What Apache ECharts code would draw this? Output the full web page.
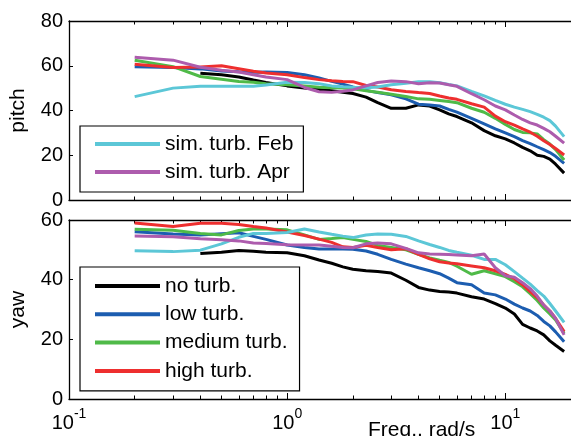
<!DOCTYPE html>
<html>
<head>
<meta charset="utf-8">
<script src="https://cdn.jsdelivr.net/npm/echarts@6/dist/echarts.min.js"></script>
<style>
html,body{margin:0;padding:0;background:#fff;}
#chart{width:571px;height:436px;}
</style>
</head>
<body>
<div id="chart"></div>
<script>
// ---------- data ----------
var freq = [0.2, 0.3, 0.4, 0.5, 0.6, 0.7, 0.8, 1.0, 1.2, 1.4, 1.6, 1.8, 2.0, 2.3, 2.6, 3.0, 3.5, 4, 4.5, 5, 5.5, 6, 7, 8, 9, 10, 11, 12, 13, 14, 15, 16, 17, 18.6];

var seriesNames = ['no turb.', 'low turb.', 'medium turb.', 'high turb.', 'sim. turb. Feb', 'sim. turb. Apr'];
var seriesColors = ['#000000', '#1c5db0', '#4fba48', '#ee2f2f', '#5cc7d7', '#ad5cad'];

// pitch (top panel)
var pitchNo   = [null, null, 56.6, 56.0, 55.0, 53.6, 52.5, 51.0, 50.0, 49.4, 48.8, 48.2, 47.6, 46.0, 43.5, 41.0, 41.0, 42.5, 42.0, 40.3, 38.5, 37.3, 34.5, 31.0, 28.7, 27.3, 25.5, 23.5, 22.0, 20.0, 19.5, 18.3, 16.0, 12.0];
var pitchLow  = [59.6, 59.2, 58.6, 57.6, 57.3, 57.1, 57.2, 57.0, 56.0, 54.5, 53.0, 51.8, 50.5, 49.0, 48.0, 47.0, 45.2, 42.8, 42.5, 42.0, 40.5, 39.3, 36.5, 34.0, 31.8, 30.0, 28.3, 26.5, 25.2, 23.8, 22.5, 21.2, 19.5, 16.4];
var pitchMed  = [62.5, 59.6, 55.2, 54.0, 53.0, 52.6, 52.0, 51.5, 51.0, 50.4, 50.2, 50.0, 49.7, 48.8, 48.2, 47.3, 46.3, 45.2, 45.0, 44.5, 44.0, 43.5, 41.0, 39.2, 36.5, 33.8, 31.5, 30.2, 30.0, 29.5, 27.0, 25.0, 22.5, 17.9];
var pitchHigh = [60.7, 59.2, 59.4, 60.0, 58.7, 57.5, 56.8, 56.0, 54.7, 53.8, 53.3, 53.0, 52.9, 51.2, 50.5, 49.3, 48.5, 48.0, 47.6, 46.5, 45.6, 45.0, 43.0, 41.5, 37.5, 35.0, 33.5, 31.8, 30.3, 28.5, 26.5, 24.8, 23.0, 20.1];
var pitchFeb  = [46.2, 50.0, 50.8, 50.8, 50.8, 50.8, 51.4, 52.6, 52.5, 52.0, 51.0, 50.6, 50.4, 50.2, 50.5, 51.5, 52.2, 52.8, 52.9, 52.4, 51.6, 51.0, 48.5, 46.5, 44.5, 42.8, 41.5, 40.5, 39.5, 38.3, 37.0, 35.5, 33.0, 28.3];
var pitchApr  = [63.8, 62.5, 59.3, 58.0, 57.2, 56.0, 55.0, 53.8, 50.3, 48.4, 48.1, 48.6, 49.2, 51.0, 52.5, 53.2, 52.9, 52.0, 52.4, 52.3, 51.5, 50.8, 47.5, 44.8, 42.0, 40.3, 38.0, 36.0, 34.5, 33.5, 32.0, 30.5, 28.5, 25.4];

// yaw (bottom panel)
var yawNo   = [null, null, 48.8, 49.2, 49.8, 49.5, 49.2, 49.0, 48.0, 46.6, 45.5, 44.3, 43.5, 43.0, 42.7, 42.2, 39.8, 37.4, 36.5, 36.0, 35.9, 35.5, 34.3, 33.5, 32.0, 30.5, 28.5, 25.0, 23.8, 22.8, 21.5, 19.5, 18.0, 15.9];
var yawLow  = [56.1, 55.3, 55.0, 55.4, 55.7, 54.5, 53.5, 51.6, 50.8, 50.3, 50.3, 50.3, 50.2, 49.6, 48.5, 46.8, 45.2, 44.0, 43.0, 42.0, 40.5, 39.0, 38.3, 35.5, 34.9, 33.5, 31.8, 30.5, 29.5, 28.0, 26.0, 24.5, 22.5, 19.2];
var yawMed  = [56.9, 56.6, 55.5, 55.0, 56.5, 57.0, 57.0, 56.7, 55.0, 53.5, 53.8, 54.1, 53.5, 52.8, 51.5, 50.8, 50.0, 48.5, 47.3, 46.5, 45.8, 44.5, 41.8, 43.0, 42.0, 41.0, 39.3, 37.6, 35.3, 33.0, 30.5, 28.5, 26.5, 22.0];
var yawHigh = [59.0, 57.8, 58.9, 58.9, 58.5, 57.8, 57.3, 56.0, 54.8, 53.6, 52.5, 51.0, 50.8, 51.5, 50.8, 50.0, 50.4, 48.5, 47.0, 46.0, 45.6, 45.3, 44.6, 44.0, 43.0, 41.8, 40.3, 38.3, 36.0, 34.0, 31.5, 29.5, 27.0, 22.6];
var yawFeb  = [49.7, 49.4, 49.9, 52.0, 54.2, 55.5, 55.5, 55.8, 57.0, 56.0, 55.2, 54.6, 54.1, 55.0, 55.3, 55.2, 54.5, 53.0, 51.8, 50.8, 49.8, 49.2, 48.2, 46.8, 46.8, 45.0, 42.7, 40.5, 38.5, 36.3, 34.5, 32.0, 29.5, 25.7];
var yawApr  = [54.6, 54.4, 53.7, 53.4, 53.0, 52.3, 52.1, 51.7, 51.6, 51.6, 51.2, 50.8, 50.7, 52.0, 52.3, 52.0, 50.5, 49.0, 48.6, 48.5, 48.4, 48.3, 48.0, 48.6, 44.0, 41.3, 40.8, 39.0, 37.0, 34.5, 31.5, 29.5, 27.0, 21.5];

var xMajorTicks = [1, 10];
var xMinorTicks = [0.2, 0.3, 0.4, 0.5, 0.6, 0.7, 0.8, 0.9, 2, 3, 4, 5, 6, 7, 8, 9, 20];
var xLabelTicks = [0.1, 1, 10];
var pitchTicks = {min: 0, max: 80, interval: 20};
var yawTicks = {min: 0, max: 60, interval: 20};

// ---------- chart ----------
var FONT = 'Liberation Sans, Arial, Helvetica, sans-serif';
var chart = echarts.init(document.getElementById('chart'), null, {renderer: 'canvas'});

function pairs(vals) {
  var out = [];
  for (var i = 0; i < freq.length; i++) {
    if (vals[i] !== null) out.push([freq[i], vals[i]]);
  }
  return out;
}

function xAxisDef(grid, pos, ticks, len, showLine, showLabel) {
  return {
    type: 'log', logBase: 10, gridIndex: grid, position: pos,
    min: 0.1, max: 20,
    axisLine: {show: showLine, onZero: false, lineStyle: {color: '#000', width: 1.3}},
    axisTick: {show: true, inside: true, length: len, customValues: ticks, lineStyle: {color: '#000', width: 1}},
    minorTick: {show: false},
    splitLine: {show: false},
    axisLabel: showLabel ? {
      show: true, margin: 8, customValues: xLabelTicks, color: '#000',
      formatter: function (v) {
        var e = Math.round(Math.log10(v));
        return '{b|10}{s|' + e + '}';
      },
      rich: {
        b: {fontSize: 20, fontFamily: FONT, color: '#000', verticalAlign: 'bottom', lineHeight: 26},
        s: {fontSize: 14, fontFamily: FONT, color: '#000', verticalAlign: 'top', lineHeight: 14}
      }
    } : {show: false}
  };
}

function yAxisDef(grid, t, name) {
  return {
    type: 'value', gridIndex: grid, min: t.min, max: t.max, interval: t.interval,
    name: name, nameLocation: 'middle', nameGap: 40,
    nameTextStyle: {fontSize: 21, fontFamily: FONT, color: '#000'},
    axisLine: {show: true, lineStyle: {color: '#000', width: 1.3}},
    axisTick: {show: true, inside: true, length: 4, lineStyle: {color: '#000'}},
    splitLine: {show: false},
    axisLabel: {fontSize: 20, fontFamily: FONT, color: '#000', margin: 6}
  };
}

var xAxes = [
  xAxisDef(0, 'bottom', xMajorTicks, 6, true, false),
  xAxisDef(0, 'bottom', xMinorTicks, 3.5, false, false),
  xAxisDef(0, 'top', xMajorTicks, 6, true, false),
  xAxisDef(0, 'top', xMinorTicks, 3.5, false, false),
  xAxisDef(1, 'bottom', xMajorTicks, 6, true, true),
  xAxisDef(1, 'bottom', xMinorTicks, 3.5, false, false),
  xAxisDef(1, 'top', xMajorTicks, 6, true, false),
  xAxisDef(1, 'top', xMinorTicks, 3.5, false, false)
];

var pitchData = [pitchNo, pitchLow, pitchMed, pitchHigh, pitchFeb, pitchApr];
var yawData = [yawNo, yawLow, yawMed, yawHigh, yawFeb, yawApr];
var series = [];
for (var k = 0; k < 6; k++) {
  series.push({
    type: 'line', name: seriesNames[k], xAxisIndex: 0, yAxisIndex: 0,
    data: pairs(pitchData[k]), showSymbol: false, symbol: 'none',
    lineStyle: {color: seriesColors[k], width: 3}, itemStyle: {color: seriesColors[k]},
    animation: false, z: 2 + k
  });
}
for (var k2 = 0; k2 < 6; k2++) {
  series.push({
    type: 'line', name: seriesNames[k2], xAxisIndex: 4, yAxisIndex: 1,
    data: pairs(yawData[k2]), showSymbol: false, symbol: 'none',
    lineStyle: {color: seriesColors[k2], width: 3}, itemStyle: {color: seriesColors[k2]},
    animation: false, z: 2 + k2
  });
}

var legendCommon = {
  orient: 'vertical', icon: 'rect', itemWidth: 65, itemHeight: 4,
  backgroundColor: '#fff', borderColor: '#000', borderWidth: 1.2, borderRadius: 0,
  textStyle: {fontSize: 21, fontFamily: FONT, color: '#000'},
  selectedMode: false, z: 20
};

var option = {
  backgroundColor: '#fff',
  animation: false,
  title: {
    text: 'Freq., rad/s', left: 368, top: 420, padding: 0,
    textStyle: {fontSize: 21, fontWeight: 'normal', fontFamily: FONT, color: '#000'}
  },
  grid: [
    {left: 69, top: 21, right: -7, height: 179, containLabel: false},
    {left: 69, top: 220, right: -7, height: 179, containLabel: false}
  ],
  xAxis: xAxes,
  yAxis: [yAxisDef(0, pitchTicks, 'pitch'), yAxisDef(1, yawTicks, 'yaw')],
  legend: [
    Object.assign({}, legendCommon, {
      data: ['sim. turb. Feb', 'sim. turb. Apr'],
      left: 80, top: 126, itemGap: 7, padding: [7.5, 10, 9.5, 15]
    }),
    Object.assign({}, legendCommon, {
      data: ['no turb.', 'low turb.', 'medium turb.', 'high turb.'],
      left: 80, top: 267, itemGap: 7.3, padding: [8.5, 12, 9.5, 15]
    })
  ],
  series: series
};
chart.setOption(option);
</script>
</body>
</html>
